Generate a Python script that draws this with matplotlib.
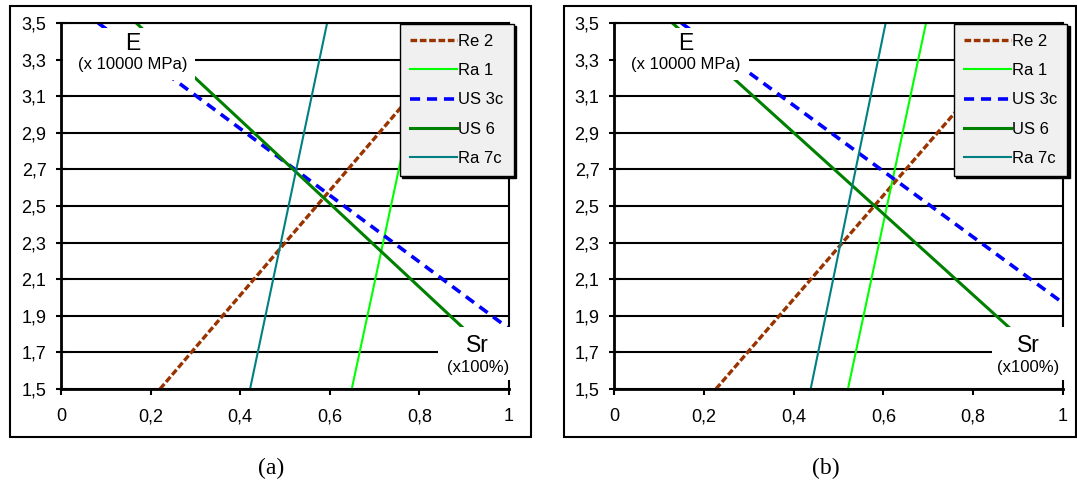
import matplotlib.pyplot as plt
from matplotlib.patches import Rectangle
from matplotlib.ticker import FuncFormatter

plt.rcParams['font.family'] = ['Liberation Sans', 'DejaVu Sans']

series = ["Re 2", "Ra 1", "US 3c", "US 6", "Ra 7c"]
colors = ["#993300", "#00ff00", "#0000ff", "#008000", "#008080"]
styles = [
    dict(lw=2.4, ls=(0, (2.0, 0.8))),
    dict(lw=1.5, ls="-"),
    dict(lw=2.6, ls=(0, (2.8, 1.9))),
    dict(lw=2.2, ls="-"),
    dict(lw=1.5, ls="-"),
]

xticks = [0, 0.2, 0.4, 0.6, 0.8, 1.0]
yticks = [1.5, 1.7, 1.9, 2.1, 2.3, 2.5, 2.7, 2.9, 3.1, 3.3, 3.5]

# trend lines, two end points each: Sr (x100%) and E (x 10000 MPa)
sr_a = [[0.221, 0.920], [0.649, 0.824], [0.083, 1.0], [0.168, 1.0], [0.422, 0.594]]
e_a = [[1.5, 3.5], [1.5, 3.5], [3.5, 1.83], [3.5, 1.60], [1.5, 3.5]]
sr_b = [[0.227, 0.932], [0.521, 0.695], [0.15, 1.0], [0.13, 1.0], [0.438, 0.605]]
e_b = [[1.5, 3.5], [1.5, 3.5], [3.5, 1.97], [3.5, 1.57], [1.5, 3.5]]


def comma(v, pos=None):
    return f"{v:g}".replace(".", ",")


def comma1(v, pos=None):
    return f"{v:.1f}".replace(".", ",")


def draw_panel(ax, sr, e, sr_lbl_x):
    for name, x, y, c, st in zip(series, sr, e, colors, styles):
        ax.plot(x, y, color=c, label=name, zorder=2, **st)

    ax.set_xlim(0, 1)
    ax.set_ylim(1.5, 3.5)
    ax.set_xticks(xticks)
    ax.set_yticks(yticks)
    ax.xaxis.set_major_formatter(FuncFormatter(comma))
    ax.yaxis.set_major_formatter(FuncFormatter(comma1))
    ax.tick_params(axis="y", direction="inout", length=7, width=1.5, labelsize=13, pad=7)
    ax.tick_params(axis="x", direction="out", length=4, width=1.5, labelsize=13, pad=10)
    ax.grid(axis="y", color="black", lw=1.5)
    ax.set_axisbelow(True)
    for side in ["left", "bottom"]:
        ax.spines[side].set_linewidth(2)
    for side in ["top", "right"]:
        ax.spines[side].set_linewidth(1.5)

    # white label boxes hide the lines behind the axis names
    ax.add_patch(Rectangle((0.004, 3.19), 0.296, 0.28, fc="white", ec="none", zorder=3))
    ax.text(0.16, 3.39, "E", size=16.5, ha="center", va="center", zorder=4)
    ax.text(0.16, 3.275, "(x 10000 MPa)", size=12, ha="center", va="center", zorder=4)
    ax.add_patch(Rectangle((0.842, 1.55), 0.165, 0.29, fc="white", ec="none",
                           zorder=3, clip_on=False))
    ax.text(sr_lbl_x, 1.735, "Sr", size=16.5, ha="center", va="center", zorder=4)
    ax.text(sr_lbl_x, 1.62, "(x100%)", size=12, ha="center", va="center", zorder=4)

    leg = ax.legend(loc="upper left", bbox_to_anchor=(0.757, 0.997), borderaxespad=0,
                    fontsize=12, handlelength=2.8, handletextpad=0.1, labelspacing=0.85,
                    borderpad=0.6, fancybox=False, edgecolor="black", facecolor="#f0f0f0",
                    framealpha=1, shadow={"color": "black", "alpha": 1, "ox": 1.5, "oy": -1.5})
    leg.get_frame().set_linewidth(1.0)
    leg.set_zorder(6)


fig = plt.figure(figsize=(10.77, 4.87), dpi=100)
W, H = 1077, 487

ax_a = fig.add_axes([61 / W, 1 - 389 / H, 448 / W, 366 / H])
ax_b = fig.add_axes([614 / W, 1 - 389 / H, 449 / W, 366 / H])
draw_panel(ax_a, sr_a, e_a, 0.93)
draw_panel(ax_b, sr_b, e_b, 0.922)

# outer frames around each chart
for x0, x1 in [(10, 531), (564, 1076)]:
    fig.add_artist(Rectangle((x0 / W, 1 - 437 / H), (x1 - x0) / W, 431 / H,
                             transform=fig.transFigure, fill=False, lw=1.5, ec="black"))

fig.text(271 / W, 1 - 468 / H, "(a)", family="Liberation Serif", size=17, ha="center", va="center")
fig.text(826 / W, 1 - 468 / H, "(b)", family="Liberation Serif", size=17, ha="center", va="center")

fig.savefig("out.png", dpi=100)
